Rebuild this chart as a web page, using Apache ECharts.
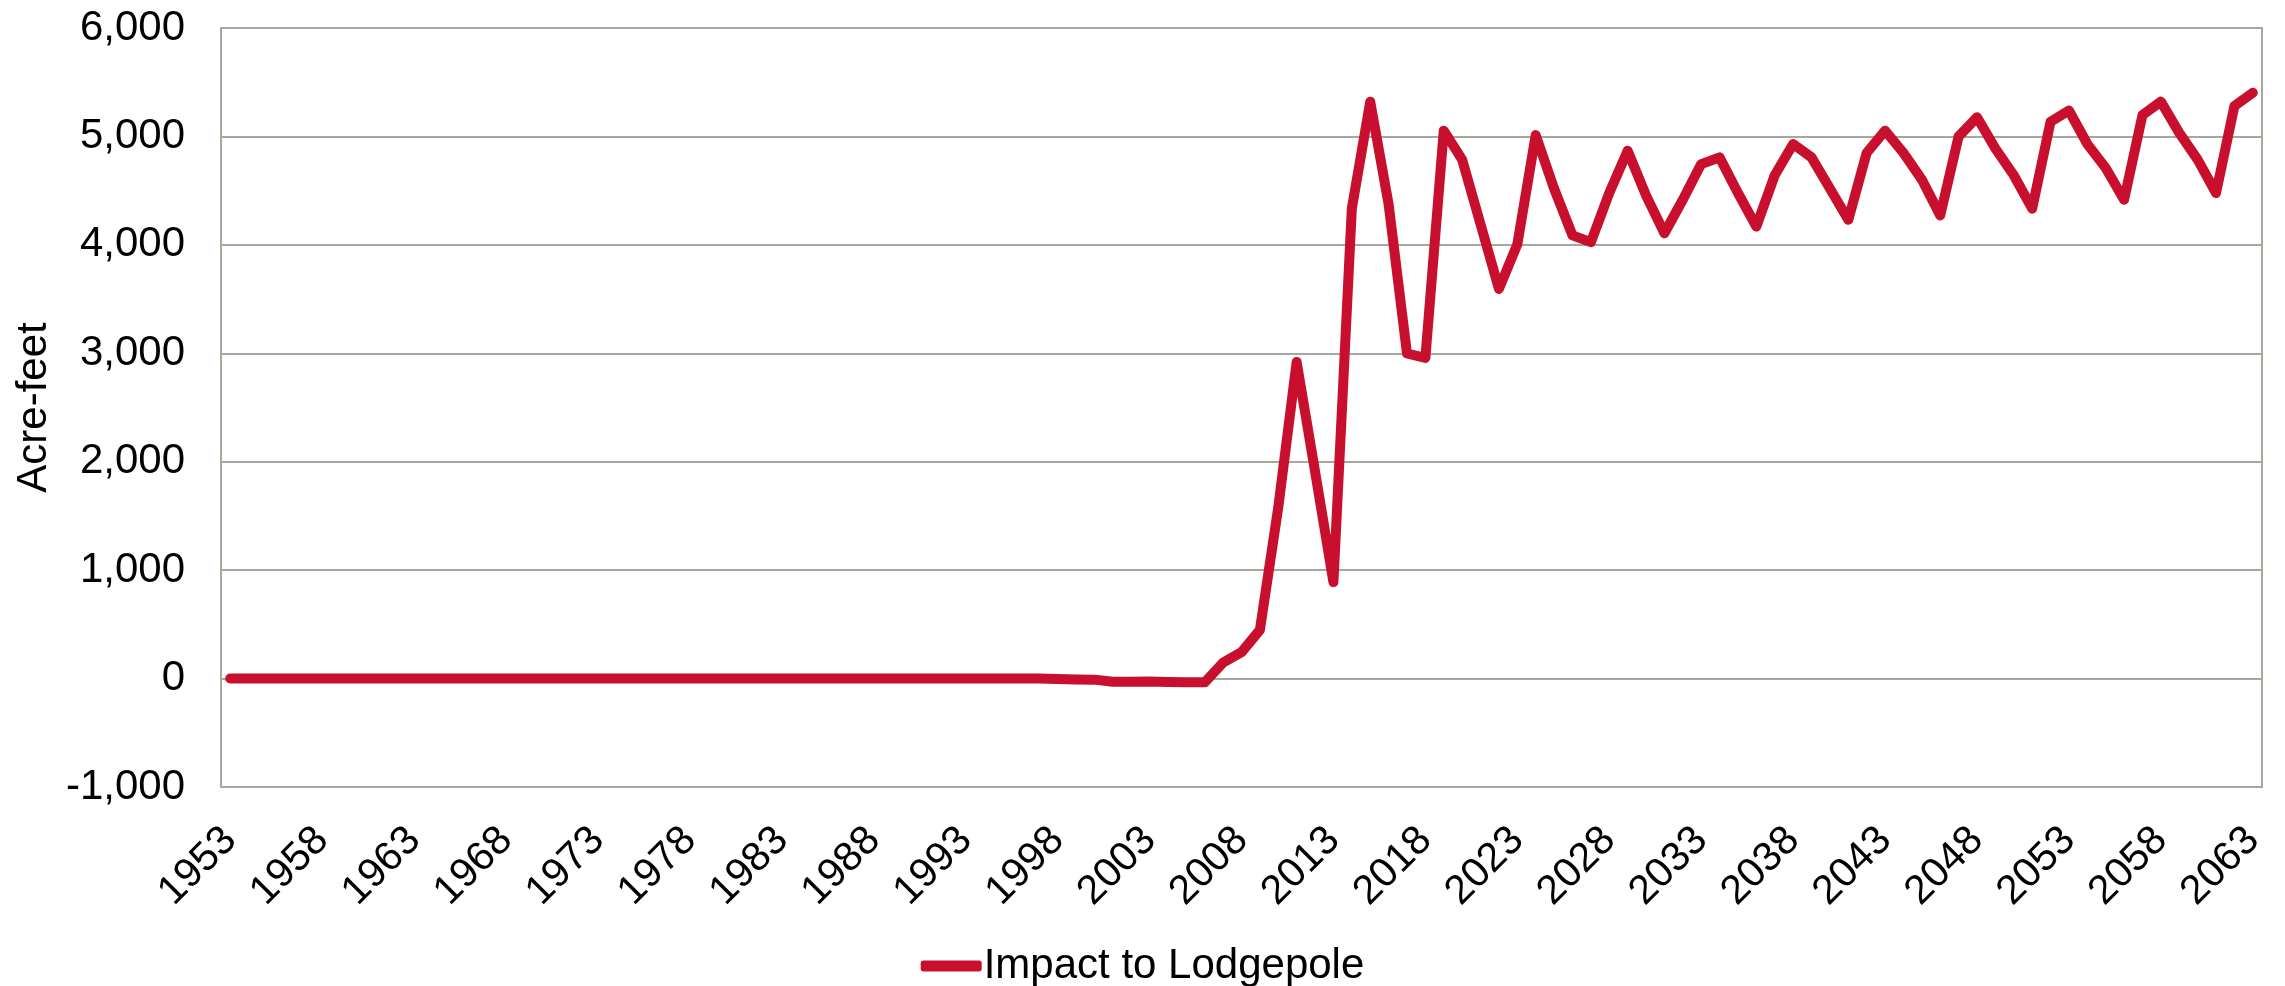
<!DOCTYPE html>
<html>
<head>
<meta charset="utf-8">
<title>Impact to Lodgepole</title>
<script src="https://cdn.jsdelivr.net/npm/echarts@6.0.0/dist/echarts.min.js"></script>
<style>
  html, body { margin: 0; padding: 0; background: #fff; }
  #chart { width: 2285px; height: 986px; }
</style>
</head>
<body>
<div id="chart"></div>
<script>
// years on the category axis, 1953 - 2063
var years = [];
for (var y = 1953; y <= 2063; y++) years.push(String(y));

// acre-feet
var impact = [
  0, 0, 0, 0, 0, 0, 0, 0, 0, 0,          // 1953-1962
  0, 0, 0, 0, 0, 0, 0, 0, 0, 0,          // 1963-1972
  0, 0, 0, 0, 0, 0, 0, 0, 0, 0,          // 1973-1982
  0, 0, 0, 0, 0, 0, 0, 0, 0, 0,          // 1983-1992
  0, 0, 0, 0, 0,                          // 1993-1997
  -5, -8, -10, -30, -30, -28, -32, -35, -35, // 1998-2006
  148, 243, 448, 1580, 2920, 1910, 890,   // 2007-2013
  4334, 5320, 4375, 2998, 2957, 5053, 4786, 4190, 3594, 4005, // 2014-2023
  5012, 4519, 4087, 4025, 4478, 4868, 4457, 4107, 4416, 4745, // 2024-2033
  4807, 4478, 4169, 4642, 4930, 4807, 4519, 4231, 4848, 5053, // 2034-2043
  4848, 4602, 4272, 5000, 5177, 4889, 4642, 4334, 5136, 5239, // 2044-2053
  4930, 4708, 4416, 5198, 5321, 5033, 4786, 4478, 5280, 5403  // 2054-2063
];

var seriesName = 'Impact to Lodgepole';
var yMin = -1000, yMax = 6000, yStep = 1000;

var gridColor = '#a7a89c';
var lineColor = '#c8102e';
var font = 'Liberation Sans, Arial, sans-serif';

var chart = echarts.init(document.getElementById('chart'));
var option = {
  animation: false,
  backgroundColor: '#fff',
  textStyle: { fontFamily: font },
  grid: {
    left: 221,
    right: 23,
    top: 28,
    bottom: 199,
    show: true,
    borderColor: gridColor,
    borderWidth: 2
  },
  legend: {
    data: [seriesName],
    top: 940,
    left: 'center',
    icon: 'roundRect',
    itemWidth: 61,
    itemHeight: 11,
    itemGap: 20,
    textStyle: { fontSize: 42, color: '#000', fontFamily: font, padding: [0, 0, 0, -3] }
  },
  xAxis: {
    type: 'category',
    data: years,
    boundaryGap: true,
    axisLine: { show: false },
    axisTick: { show: false },
    axisLabel: {
      interval: 4,
      rotate: 45,
      margin: 47,
      fontSize: 41,
      color: '#000',
      fontFamily: font
    },
    splitLine: { show: false }
  },
  yAxis: {
    type: 'value',
    min: yMin,
    max: yMax,
    interval: yStep,
    name: 'Acre-feet',
    nameLocation: 'middle',
    nameGap: 165,
    nameTextStyle: { fontSize: 42, color: '#000', fontFamily: font },
    axisLine: { show: false },
    axisTick: { show: false },
    axisLabel: {
      margin: 36,
      fontSize: 42,
      color: '#000',
      fontFamily: font,
      formatter: function (v) { return v.toLocaleString('en-US'); }
    },
    splitLine: { lineStyle: { color: gridColor, width: 2 } }
  },
  series: [
    {
      name: seriesName,
      type: 'line',
      data: impact,
      symbol: 'none',
      itemStyle: { color: lineColor },
      lineStyle: { color: lineColor, width: 10, join: 'round', cap: 'round' }
    }
  ]
};
chart.setOption(option);
</script>
</body>
</html>
